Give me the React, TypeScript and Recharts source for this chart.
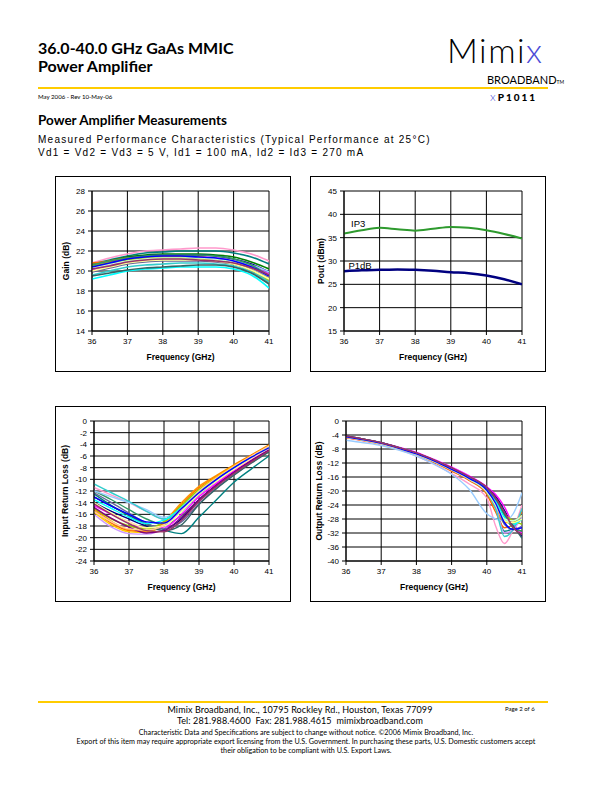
import React from 'react'
import { LineChart, Line, XAxis, YAxis, CartesianGrid, Label, ReferenceDot } from 'recharts'

// frequency grids (GHz)
const FREQ = [36, 36.5, 37, 37.5, 38, 38.5, 39, 39.5, 40, 40.5, 41]
const FREQ_ORL = [36, 36.5, 37, 37.5, 38, 38.5, 39, 39.5, 40, 40.25, 40.5, 40.75, 41]
const X_TICKS = [36, 37, 38, 39, 40, 41]

const GAIN_TICKS = [14, 16, 18, 20, 22, 24, 26, 28]
const POUT_TICKS = [15, 20, 25, 30, 35, 40, 45]
const IRL_TICKS = [-24, -22, -20, -18, -16, -14, -12, -10, -8, -6, -4, -2, 0]
const ORL_TICKS = [-40, -36, -32, -28, -24, -20, -16, -12, -8, -4, 0]

// Excel-style palette used for the many measured parts
const PART_COLORS = [
  '#FF99CC', '#008080', '#008000', '#000080', '#FF00FF', '#FF9900', '#FF6600', '#FFCC00', '#99CCFF', '#CC99FF',
  '#99CC00', '#339966', '#666699', '#33CCCC', '#00FFFF', '#336666', '#FFFF99', '#CCFFCC', '#0000FF', '#993366',
]
const IRL_COLORS = [
  '#008080', '#FF99CC', '#339966', '#000080', '#FF00FF', '#FF9900', '#FF6600', '#FFCC00', '#99CCFF', '#CC99FF',
  '#99CC00', '#666699', '#336666', '#33CCCC', '#00FFFF', '#800080', '#FFFF99', '#FFCC99', '#0000FF', '#993366',
]

// Gain (dB) per part, at FREQ
const GAIN_CURVES = [
  [20.8, 21.3, 21.7, 22.0, 22.1, 22.2, 22.3, 22.3, 22.1, 21.7, 21.0],
  [20.7, 21.1, 21.5, 21.8, 21.9, 22.0, 22.0, 22.0, 21.8, 21.4, 20.7],
  [20.6, 21.0, 21.4, 21.6, 21.7, 21.7, 21.7, 21.6, 21.4, 20.9, 20.2],
  [20.5, 20.9, 21.3, 21.5, 21.6, 21.6, 21.6, 21.5, 21.2, 20.7, 19.9],
  [20.1, 20.6, 21.0, 21.2, 21.3, 21.4, 21.4, 21.3, 21.0, 20.5, 19.7],
  [20.6, 20.9, 21.2, 21.4, 21.4, 21.4, 21.4, 21.2, 20.8, 20.1, 19.0],
  [20.8, 21.0, 21.3, 21.4, 21.5, 21.5, 21.4, 21.2, 20.8, 20.0, 18.8],
  [20.4, 20.8, 21.1, 21.3, 21.3, 21.3, 21.2, 21.0, 20.7, 20.2, 19.3],
  [20.3, 20.7, 21.0, 21.2, 21.3, 21.3, 21.3, 21.2, 21.0, 20.6, 19.9],
  [20.2, 20.6, 20.9, 21.1, 21.2, 21.2, 21.2, 21.1, 20.9, 20.4, 19.6],
  [20.5, 20.8, 21.1, 21.3, 21.3, 21.3, 21.2, 21.0, 20.7, 20.1, 19.1],
  [20.6, 21.0, 21.3, 21.5, 21.6, 21.6, 21.6, 21.5, 21.2, 20.6, 19.5],
  [19.9, 20.3, 20.7, 20.9, 21.0, 21.0, 21.0, 20.9, 20.7, 20.2, 19.4],
  [19.6, 20.0, 20.4, 20.6, 20.7, 20.8, 20.8, 20.7, 20.5, 19.9, 18.9],
  [19.2, 19.6, 20.0, 20.2, 20.3, 20.4, 20.4, 20.4, 20.2, 19.6, 18.3],
  [19.5, 19.8, 20.1, 20.3, 20.4, 20.5, 20.6, 20.6, 20.4, 19.8, 18.7],
  [20.0, 20.4, 20.8, 21.0, 21.1, 21.1, 21.1, 21.0, 20.7, 20.1, 19.2],
  [20.3, 20.7, 21.0, 21.2, 21.3, 21.3, 21.3, 21.2, 20.9, 20.3, 19.5],
  [20.4, 20.8, 21.2, 21.4, 21.5, 21.5, 21.4, 21.3, 21.0, 20.4, 19.5],
  [20.2, 20.5, 20.9, 21.1, 21.2, 21.2, 21.1, 21.0, 20.8, 20.3, 19.6],
]

// Pout (dBm) at FREQ
const IP3 = [35.9, 36.6, 37.1, 36.8, 36.5, 36.9, 37.3, 37.1, 36.6, 35.8, 34.8]
const P1DB = [27.8, 28.0, 28.1, 28.2, 28.1, 27.9, 27.6, 27.4, 26.9, 26.1, 25.0]

// Input return loss (dB) per part, at FREQ
const IRL_CURVES = [
  [-12.5, -14.5, -16.2, -17.6, -18.7, -19.3, -16.5, -13.5, -10.5, -8.2, -6.0],
  [-11.4, -12.7, -14.0, -15.5, -16.8, -15.3, -12.8, -10.5, -8.3, -6.5, -4.8],
  [-12.0, -13.5, -15.2, -16.8, -17.8, -16.2, -13.5, -11.0, -8.8, -6.8, -5.0],
  [-14.0, -15.5, -16.8, -18.0, -18.5, -16.8, -13.5, -11.0, -8.8, -6.8, -5.0],
  [-14.5, -16.0, -17.3, -18.4, -18.3, -16.0, -13.0, -10.7, -8.5, -6.5, -4.8],
  [-15.0, -17.2, -18.6, -18.8, -17.2, -14.0, -11.2, -9.3, -7.5, -5.8, -4.1],
  [-15.3, -17.5, -18.8, -19.0, -17.5, -14.3, -11.5, -9.5, -7.6, -5.9, -4.2],
  [-15.6, -17.8, -19.0, -19.1, -17.7, -14.5, -11.7, -9.6, -7.7, -6.0, -4.3],
  [-12.0, -13.0, -14.0, -15.2, -16.5, -15.0, -12.5, -10.3, -8.2, -6.3, -4.7],
  [-16.0, -18.2, -19.3, -19.4, -18.3, -15.2, -12.2, -10.0, -8.0, -6.2, -4.5],
  [-15.0, -16.8, -18.0, -18.5, -17.3, -14.5, -11.8, -9.8, -7.9, -6.1, -4.4],
  [-12.3, -14.0, -15.8, -17.5, -18.5, -17.3, -14.2, -11.5, -9.2, -7.1, -5.2],
  [-13.0, -14.6, -16.2, -17.8, -18.8, -17.8, -14.3, -11.6, -9.3, -7.2, -5.3],
  [-10.8, -12.3, -13.8, -15.5, -16.8, -15.5, -12.5, -10.2, -8.0, -6.2, -4.5],
  [-13.5, -15.0, -16.5, -17.6, -17.0, -14.8, -12.0, -9.9, -8.0, -6.2, -4.5],
  [-14.8, -16.7, -18.2, -19.2, -18.8, -16.5, -13.5, -11.0, -8.8, -6.8, -5.0],
  [-14.0, -15.8, -17.3, -18.3, -18.0, -15.5, -12.5, -10.3, -8.3, -6.4, -4.6],
  [-15.5, -17.3, -18.5, -18.7, -17.8, -15.0, -12.0, -9.8, -7.8, -6.0, -4.3],
  [-13.0, -14.6, -16.0, -17.3, -17.5, -15.0, -12.3, -10.0, -8.0, -6.2, -4.6],
  [-14.2, -16.0, -17.6, -18.8, -19.0, -17.0, -13.8, -11.2, -9.0, -7.0, -5.1],
]

// Output return loss (dB) per part, at FREQ_ORL
const ORL_CURVES = [
  [-4.8, -5.7, -6.8, -8.2, -10.0, -12.3, -15.0, -18.0, -22.0, -30.0, -35.0, -31.0, -24.0],
  [-4.4, -5.3, -6.3, -7.7, -9.3, -11.3, -13.6, -16.2, -19.5, -24.0, -31.5, -30.5, -26.5],
  [-4.4, -5.3, -6.3, -7.6, -9.2, -11.2, -13.5, -16.1, -19.3, -22.5, -27.0, -30.5, -31.5],
  [-4.3, -5.2, -6.2, -7.6, -9.2, -11.2, -13.5, -16.0, -19.0, -21.5, -25.5, -30.0, -33.0],
  [-4.4, -5.3, -6.2, -7.5, -9.0, -11.0, -13.2, -15.7, -18.8, -21.0, -24.5, -29.5, -32.0],
  [-4.6, -5.5, -6.5, -7.9, -9.6, -11.6, -14.0, -16.8, -20.5, -25.0, -29.0, -29.0, -27.0],
  [-4.7, -5.6, -6.6, -8.0, -9.7, -11.8, -14.3, -17.0, -21.0, -26.0, -30.5, -29.5, -26.0],
  [-4.6, -5.5, -6.5, -7.9, -9.5, -11.5, -13.9, -16.6, -20.2, -24.0, -28.5, -29.0, -28.0],
  [-5.5, -6.2, -7.0, -8.3, -10.0, -12.3, -15.2, -19.5, -26.5, -28.0, -28.5, -26.5, -20.5],
  [-4.6, -5.5, -6.5, -7.9, -9.5, -11.6, -14.0, -16.7, -20.3, -24.5, -32.0, -31.0, -27.5],
  [-4.5, -5.4, -6.4, -7.7, -9.3, -11.3, -13.7, -16.3, -19.7, -22.8, -26.5, -28.5, -29.5],
  [-4.4, -5.3, -6.3, -7.6, -9.2, -11.2, -13.5, -16.1, -19.3, -22.5, -27.0, -30.5, -31.5],
  [-4.4, -5.3, -6.3, -7.7, -9.3, -11.3, -13.6, -16.2, -19.4, -23.0, -29.5, -31.0, -30.0],
  [-4.5, -5.4, -6.4, -7.8, -9.4, -11.5, -13.9, -16.6, -20.3, -25.0, -33.0, -31.0, -25.0],
  [-4.5, -5.4, -6.4, -7.8, -9.4, -11.4, -13.8, -16.5, -20.0, -23.0, -27.5, -29.5, -28.0],
  [-4.3, -5.2, -6.2, -7.6, -9.2, -11.2, -13.5, -16.0, -19.1, -22.0, -26.5, -30.0, -33.5],
  [-4.6, -5.5, -6.5, -7.9, -9.5, -11.5, -13.9, -16.6, -20.2, -24.0, -28.5, -29.0, -28.0],
  [-4.5, -5.4, -6.4, -7.8, -9.4, -11.4, -13.8, -16.4, -19.9, -23.5, -28.0, -28.5, -27.0],
  [-4.5, -5.4, -6.4, -7.8, -9.4, -11.4, -13.8, -16.4, -19.8, -23.5, -29.0, -31.0, -30.5],
  [-4.3, -5.2, -6.2, -7.6, -9.1, -11.1, -13.4, -15.9, -19.0, -22.0, -26.0, -30.5, -32.5],
]

const FONT = 'Arial, "Liberation Sans", Helvetica, sans-serif'
const GILL = 'Lato, "Open Sans", sans-serif'

function buildRows(freq: number[], curves: number[][]) {
  return freq.map((f, i) => {
    const row: Record<string, number> = { f }
    curves.forEach((c, j) => {
      row['s' + j] = c[i]
    })
    return row
  })
}

const tickStyle = { fontSize: 8, fill: '#000', fontFamily: FONT }
const titleStyle = { fontSize: 8.5, fontWeight: 700, fill: '#000', fontFamily: FONT }

interface PanelProps {
  left: number
  top: number
  yWidth: number
  right: number
  yTitle: string
  yTitleDx: number
  ticks: number[]
  rows: Record<string, number>[]
  children: React.ReactNode
}

const BOX_W = 236
const BOX_H = 196

function Panel({ left, top, yWidth, right, yTitle, yTitleDx, ticks, rows, children }: PanelProps) {
  return (
    <div
      style={{
        position: 'absolute',
        left,
        top,
        width: BOX_W,
        height: BOX_H,
        border: '1px solid #000',
        boxSizing: 'border-box',
        background: '#fff',
      }}
    >
      <LineChart
        width={BOX_W - 2}
        height={BOX_H - 2}
        data={rows}
        margin={{ top: 14, right, left: 0, bottom: 0 }}
      >
        <CartesianGrid stroke="#000" strokeWidth={1} fill="#fff" />
        <XAxis
          dataKey="f"
          type="number"
          domain={[36, 41]}
          ticks={X_TICKS}
          height={40}
          tick={tickStyle}
          tickSize={4}
          tickMargin={3}
          stroke="#000"
          allowDataOverflow
        >
          <Label value="Frequency (GHz)" position="insideBottom" offset={11} style={titleStyle} />
        </XAxis>
        <YAxis
          type="number"
          domain={[ticks[0], ticks[ticks.length - 1]]}
          ticks={ticks}
          width={yWidth}
          tick={tickStyle}
          tickSize={4}
          tickMargin={3}
          stroke="#000"
          interval={0}
          allowDataOverflow
        >
          <Label value={yTitle} angle={-90} position="center" dx={yTitleDx} style={titleStyle} />
        </YAxis>
        {children}
      </LineChart>
    </div>
  )
}

function partLines(count: number, width: number, colors: string[]) {
  return Array.from({ length: count }, (_, j) => (
    <Line
      key={j}
      dataKey={'s' + j}
      type="monotone"
      stroke={colors[j % colors.length]}
      strokeWidth={width}
      dot={false}
      isAnimationActive={false}
    />
  ))
}

export default function App() {
  const gainRows = buildRows(FREQ, GAIN_CURVES)
  const poutRows = FREQ.map((f, i) => ({ f, ip3: IP3[i], p1db: P1DB[i] }))
  const irlRows = buildRows(FREQ, IRL_CURVES)
  const orlRows = buildRows(FREQ_ORL, ORL_CURVES)

  return (
    <div style={{ position: 'absolute', left: 0, top: 0, width: 612, height: 792, background: '#fff', color: '#000' }}>
      {/* header */}
      <div style={{ position: 'absolute', left: 38, top: 39, fontFamily: GILL, fontWeight: 700, fontSize: 16, lineHeight: '18px' }}>
        36.0-40.0 GHz GaAs MMIC
        <br />
        Power Amplifier
      </div>
      <div style={{ position: 'absolute', left: 447, top: 33, fontFamily: GILL, fontWeight: 300, fontSize: 34, lineHeight: '34px', letterSpacing: 1.5 }}>
        Mimi<span style={{ color: '#4B4BD6' }}>x</span>
      </div>
      <div style={{ position: 'absolute', left: 487, top: 74, fontFamily: GILL, fontSize: 11, lineHeight: '12px' }}>
        BROADBAND<span style={{ fontSize: 5 }}>TM</span>
      </div>
      <div style={{ position: 'absolute', left: 38, top: 87, width: 510, height: 2, background: '#FFCC00' }} />
      <div style={{ position: 'absolute', left: 38, top: 93, fontFamily: GILL, fontSize: 6.1, lineHeight: '8px' }}>
        May 2006 - Rev 10-May-06
      </div>
      <div style={{ position: 'absolute', left: 490, top: 91, fontFamily: GILL, fontWeight: 900, fontSize: 10, lineHeight: '11px', letterSpacing: 2 }}>
        <span style={{ color: '#4B4BD6', fontWeight: 300, fontSize: 12 }}>x</span>P1011
      </div>

      <div style={{ position: 'absolute', left: 38, top: 112, fontFamily: GILL, fontWeight: 700, fontSize: 13.5, lineHeight: '16px' }}>
        Power Amplifier Measurements
      </div>
      <div style={{ position: 'absolute', left: 38, top: 133, fontFamily: FONT, fontSize: 10, lineHeight: '13px', letterSpacing: 1.25 }}>
        Measured Performance Characteristics (Typical Performance at 25°C)
        <br />
        Vd1 = Vd2 = Vd3 = 5 V, Id1 = 100 mA, Id2 = Id3 = 270 mA
      </div>

      {/* charts */}
      <Panel left={55} top={176} yWidth={36} right={21} yTitle="Gain (dB)" yTitleDx={-8} ticks={GAIN_TICKS} rows={gainRows}>
        {partLines(GAIN_CURVES.length, 1.7, PART_COLORS)}
      </Panel>

      <Panel left={310} top={176} yWidth={33} right={23} yTitle="Pout (dBm)" yTitleDx={-7} ticks={POUT_TICKS} rows={poutRows}>
        <Line dataKey="ip3" type="monotone" stroke="#2E9A2E" strokeWidth={2} dot={false} isAnimationActive={false} />
        <Line dataKey="p1db" type="monotone" stroke="#000080" strokeWidth={2.5} dot={false} isAnimationActive={false} />
        <ReferenceDot x={36.4} y={38.1} r={0} fill="none" stroke="none" ifOverflow="visible">
          <Label value="IP3" position="center" style={{ fontSize: 9.5, fontFamily: FONT, fill: '#000' }} />
        </ReferenceDot>
        <ReferenceDot x={36.45} y={29.1} r={0} fill="none" stroke="none" ifOverflow="visible">
          <Label value="P1dB" position="center" style={{ fontSize: 9.5, fontFamily: FONT, fill: '#000' }} />
        </ReferenceDot>
      </Panel>

      <Panel left={55} top={406} yWidth={38} right={21} yTitle="Input Return Loss (dB)" yTitleDx={-10} ticks={IRL_TICKS} rows={irlRows}>
        {partLines(IRL_CURVES.length, 1.4, IRL_COLORS)}
      </Panel>

      <Panel left={310} top={406} yWidth={35} right={23} yTitle="Output Return Loss (dB)" yTitleDx={-10} ticks={ORL_TICKS} rows={orlRows}>
        {partLines(ORL_CURVES.length, 1.4, PART_COLORS)}
      </Panel>

      {/* footer */}
      <div style={{ position: 'absolute', left: 38, top: 701, width: 510, height: 2, background: '#FFCC00' }} />
      <div style={{ position: 'absolute', left: 100, width: 400, top: 704, textAlign: 'center', fontFamily: GILL, fontSize: 9, lineHeight: '11px', letterSpacing: 0.1 }}>
        Mimix Broadband, Inc., 10795 Rockley Rd., Houston, Texas 77099
        <br />
        Tel: 281.988.4600&nbsp; Fax: 281.988.4615&nbsp; mimixbroadband.com
      </div>
      <div style={{ position: 'absolute', left: 505, top: 705, fontFamily: GILL, fontSize: 6, lineHeight: '8px' }}>
        Page 2 of 6
      </div>
      <div style={{ position: 'absolute', left: 10, width: 592, top: 729, textAlign: 'center', fontFamily: GILL, fontSize: 7.2, lineHeight: '8.8px' }}>
        Characteristic Data and Specifications are subject to change without notice. ©2006 Mimix Broadband, Inc.
        <br />
        Export of this item may require appropriate export licensing from the U.S. Government. In purchasing these parts, U.S. Domestic customers accept
        <br />
        their obligation to be compliant with U.S. Export Laws.
      </div>
    </div>
  )
}
